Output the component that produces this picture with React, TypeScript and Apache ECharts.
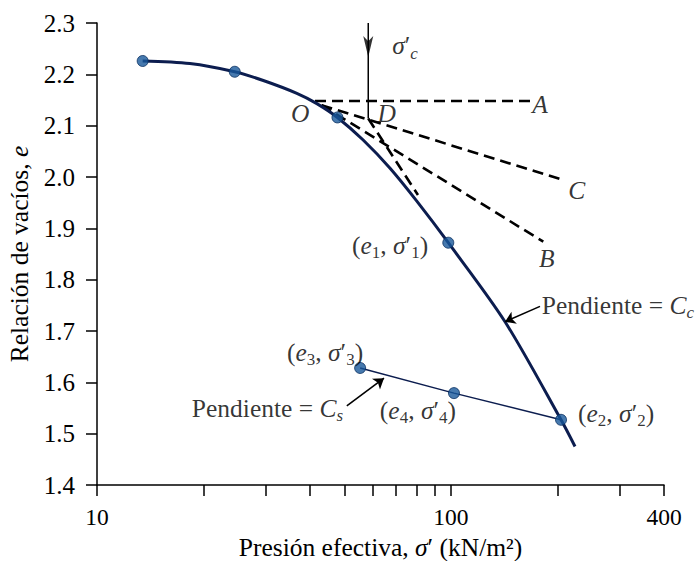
import React, { useEffect, useRef } from 'react';
import * as echarts from 'echarts';

const FONT = "'Liberation Serif', 'Times New Roman', serif";
const NAVY = '#0c1d4f';
const MARK_FILL = '#18589a';
const MARK_EDGE = '#0a2f60';
const FS = 25.5;
const FS_SUB = 17;

// Axis definitions
const X_MIN = 10;
const X_MAX = 400;
const X_TICKS = [10, 20, 30, 40, 50, 60, 70, 80, 90, 100, 200, 300, 400];
const X_LABELS = [10, 100, 400];
const Y_MIN = 1.4;
const Y_MAX = 2.3;
const Y_STEP = 0.1;

// Virgin compression curve (effective pressure, void ratio)
const curveSigma = [13.46, 18.3, 24.5, 29.5, 36.7, 41.8, 47.8, 56.5, 67.3, 80.1, 98.3, 142.2, 204.7, 224.2];
const curveE = [2.226, 2.221, 2.205, 2.188, 2.163, 2.143, 2.116, 2.072, 2.017, 1.953, 1.872, 1.718, 1.527, 1.475];

// Measured points
const pointSigma = [13.46, 24.5, 47.8, 98.3, 204.7, 55.4, 102.0];
const pointE = [2.226, 2.205, 2.116, 1.872, 1.527, 1.628, 1.579];

// Unloading / reloading line
const reloadSigma = [55.4, 102.0, 204.7];
const reloadE = [1.628, 1.579, 1.527];

// Casagrande construction lines
const lineOA_sigma = [41.3, 167.3];
const lineOA_e = [2.148, 2.148];
const lineOC_sigma = [43.1, 207.8];
const lineOC_e = [2.14, 1.994];
const lineOB_sigma = [43.1, 182.4];
const lineOB_e = [2.14, 1.874];
const lineDE_sigma = [58.4, 80.7];
const lineDE_e = [2.114, 1.965];

// Preconsolidation pressure marker
const sigmaC = 58.4;
const sigmaCLineE = [2.3, 2.114];
const sigmaCArrowE = 2.254;

// Curved pointer arrows [start, end]
const arrowCsSigma = [50.8, 64.7];
const arrowCsE = [1.554, 1.608];
const arrowCcSigma = [178.5, 142.2];
const arrowCcE = [1.748, 1.718];

// Annotation texts
const annoText = [
  '{i|O}',
  '{i|D}',
  '{i|A}',
  '{i|C}',
  '{i|B}',
  '{i|σ}′{subi|c}',
  '({i|e}{sub|1}, {i|σ}′{sub|1})',
  'Pendiente = {i|C}{subi|c}',
  '({i|e}{sub|3}, {i|σ}′{sub|3})',
  'Pendiente = {i|C}{subi|s}',
  '({i|e}{sub|4}, {i|σ}′{sub|4})',
  '({i|e}{sub|2}, {i|σ}′{sub|2})',
];
const annoSigma = [37.5, 65.9, 178.5, 226.7, 186.5, 74.2, 67.3, 180.6, 44.1, 49.6, 80.7, 228.7];
const annoE = [2.124, 2.124, 2.142, 1.974, 1.841, 2.256, 1.867, 1.75, 1.659, 1.55, 1.546, 1.54];
const annoAlign = ['center', 'center', 'center', 'center', 'center', 'center', 'center', 'left', 'center', 'right', 'center', 'left'];

const zip = (xs: number[], ys: number[]) => xs.map((x, i) => [x, ys[i]]);

const rich = {
  i: { fontFamily: FONT, fontSize: FS, fontStyle: 'italic', color: '#000', lineHeight: 32 },
  sub: { fontFamily: FONT, fontSize: FS_SUB, color: '#000', verticalAlign: 'bottom', lineHeight: 17 },
  subi: { fontFamily: FONT, fontSize: FS_SUB, fontStyle: 'italic', color: '#000', verticalAlign: 'bottom', lineHeight: 17 },
};

const dashedSeries = (xs: number[], ys: number[]) => ({
  type: 'line',
  xAxisIndex: 1,
  data: zip(xs, ys),
  showSymbol: false,
  symbol: 'none',
  silent: true,
  lineStyle: { color: '#000', width: 2.6, type: [11, 6] },
  z: 2,
});

export default function App() {
  const ref = useRef<HTMLDivElement>(null);

  useEffect(() => {
    if (!ref.current) return;
    const chart = echarts.init(ref.current, undefined, { renderer: 'svg' });

    const option: any = {
      animation: false,
      backgroundColor: '#fff',
      textStyle: { fontFamily: FONT },
      grid: {
        left: 97,
        right: 36,
        top: 23,
        bottom: 76,
        containLabel: false,
        outerBoundsMode: 'none',
      },
      xAxis: [
        {
          type: 'value',
          min: Math.log10(X_MIN),
          max: Math.log10(X_MAX),
          position: 'bottom',
          axisLine: { show: true, lineStyle: { color: '#000', width: 1.5 } },
          axisTick: {
            show: true,
            customValues: X_TICKS.map((v) => Math.log10(v)),
            length: 11,
            lineStyle: { color: '#000', width: 1.5 },
          },
          axisLabel: {
            customValues: X_LABELS.map((v) => Math.log10(v)),
            formatter: (v: number) => String(Math.round(Math.pow(10, v))),
            color: '#000',
            fontFamily: FONT,
            fontSize: 23.5,
            margin: 20,
          },
          splitLine: { show: false },
          name: 'Presión efectiva, {i|σ}′ (kN/m²)',
          nameLocation: 'middle',
          nameGap: 50,
          nameTextStyle: {
            fontFamily: FONT,
            fontSize: FS,
            color: '#000',
            lineHeight: 24,
            rich: {
              i: { fontFamily: FONT, fontSize: FS, fontStyle: 'italic', color: '#000', lineHeight: 24 },
            },
          },
        },
        {
          type: 'log',
          logBase: 10,
          min: X_MIN,
          max: X_MAX,
          position: 'top',
          show: false,
        },
      ],
      yAxis: {
        type: 'value',
        min: Y_MIN,
        max: Y_MAX,
        interval: Y_STEP,
        axisLine: { show: true, lineStyle: { color: '#000', width: 1.5 } },
        axisTick: { show: true, length: 11, lineStyle: { color: '#000', width: 1.5 } },
        axisLabel: {
          color: '#000',
          fontFamily: FONT,
          fontSize: 25,
          margin: 22,
          formatter: (v: number) => v.toFixed(1),
        },
        splitLine: { show: false },
        name: 'Relación de vacíos, {i|e}',
        nameLocation: 'middle',
        nameGap: 62,
        nameTextStyle: {
          fontFamily: FONT,
          fontSize: FS,
          color: '#000',
          rich: { i: { fontFamily: FONT, fontSize: FS, fontStyle: 'italic', color: '#000' } },
        },
      },
      series: [
        dashedSeries(lineOA_sigma, lineOA_e),
        dashedSeries(lineOC_sigma, lineOC_e),
        dashedSeries(lineOB_sigma, lineOB_e),
        dashedSeries(lineDE_sigma, lineDE_e),
        {
          type: 'line',
          xAxisIndex: 1,
          data: zip(curveSigma, curveE),
          smooth: 0.3,
          showSymbol: false,
          symbol: 'none',
          silent: true,
          lineStyle: { color: NAVY, width: 3 },
          z: 3,
        },
        {
          type: 'line',
          xAxisIndex: 1,
          data: zip(reloadSigma, reloadE),
          showSymbol: false,
          symbol: 'none',
          silent: true,
          lineStyle: { color: NAVY, width: 1.5 },
          z: 3,
          markLine: {
            silent: true,
            symbol: ['none', 'arrow'],
            symbolSize: 10,
            label: { show: false },
            lineStyle: { color: '#000', width: 1.6, type: 'solid' },
            data: [
              [
                { coord: [arrowCsSigma[0], arrowCsE[0]], lineStyle: { curveness: -0.3 } },
                { coord: [arrowCsSigma[1], arrowCsE[1]] },
              ],
              [
                { coord: [arrowCcSigma[0], arrowCcE[0]], lineStyle: { curveness: -0.2 } },
                { coord: [arrowCcSigma[1], arrowCcE[1]] },
              ],
            ],
          },
        },
        {
          type: 'line',
          xAxisIndex: 1,
          data: sigmaCLineE.map((e) => [sigmaC, e]),
          showSymbol: false,
          symbol: 'none',
          silent: true,
          lineStyle: { color: '#000', width: 1.5 },
          z: 3,
        },
        {
          type: 'scatter',
          xAxisIndex: 1,
          data: [[sigmaC, sigmaCArrowE]],
          symbol: 'path://M0,0 L5,5 L10,0 L5,20 Z',
          symbolSize: [10, 21],
          itemStyle: { color: '#000' },
          silent: true,
          z: 4,
        },
        {
          type: 'scatter',
          xAxisIndex: 1,
          data: zip(pointSigma, pointE),
          symbol: 'circle',
          symbolSize: 11,
          itemStyle: { color: MARK_FILL, borderColor: MARK_EDGE, borderWidth: 1 },
          silent: true,
          z: 5,
        },
        {
          type: 'scatter',
          xAxisIndex: 1,
          symbol: 'circle',
          symbolSize: 1,
          itemStyle: { color: 'rgba(0,0,0,0)' },
          silent: true,
          z: 6,
          label: {
            show: true,
            position: 'inside',
            fontFamily: FONT,
            fontSize: FS,
            color: '#000',
            lineHeight: 32,
            rich,
          },
          data: annoText.map((t, i) => ({
            value: [annoSigma[i], annoE[i]],
            label: { show: true, position: 'inside', formatter: t, align: annoAlign[i] },
          })),
        },
      ],
    };

    chart.setOption(option);
    return () => chart.dispose();
  }, []);

  return (
    <div
      ref={ref}
      style={{ position: 'fixed', left: 0, top: 0, width: 700, height: 561, background: '#fff' }}
    />
  );
}
